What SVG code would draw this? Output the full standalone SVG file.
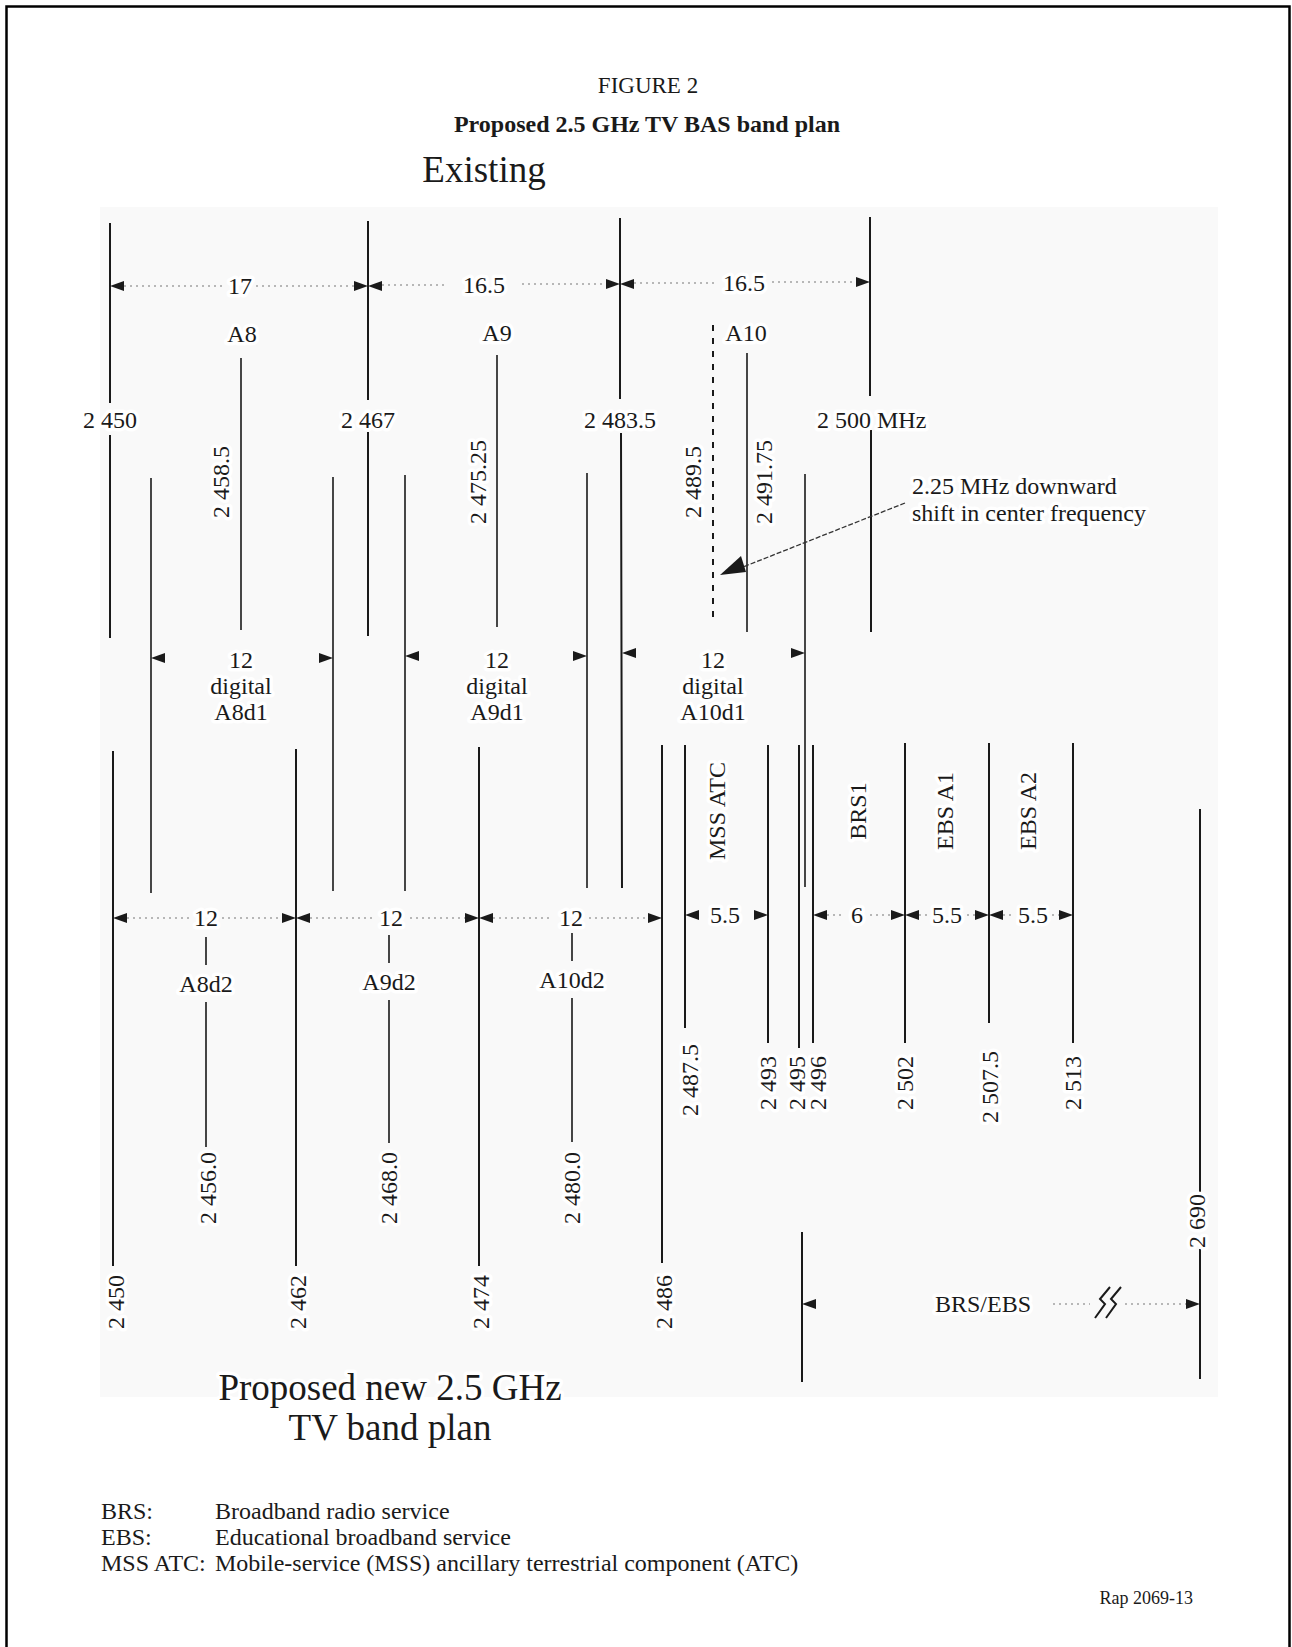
<svg xmlns="http://www.w3.org/2000/svg" xmlns:xlink="http://www.w3.org/1999/xlink" width="1292" height="1647" viewBox="0 0 1292 1647">
<style>
text{font-family:"Liberation Serif","Times New Roman",serif;fill:#1a1a1a;font-size:24px}
.c{text-anchor:middle}
.h{stroke:#fff;stroke-width:7;stroke-linejoin:round;paint-order:stroke}
.ln{fill:none;stroke:#1a1a1a;stroke-width:2}
.tn{fill:none;stroke:#1a1a1a;stroke-width:1.6}
.ds{fill:none;stroke:#1a1a1a;stroke-width:2;stroke-dasharray:6 7}
.dt{fill:none;stroke:#777;stroke-width:1.2;stroke-dasharray:2 4}
.ah{fill:#1a1a1a}
</style>
<defs>
<path id="ar" class="ah" d="M0,0 L-14,-5 L-14,5 Z"/>
<path id="al" class="ah" d="M0,0 L14,-5 L14,5 Z"/>
</defs>
<rect x="0" y="0" width="1292" height="1647" fill="#fff"/>
<path d="M6.5,1660 V6.5 H1289.5 V1660" fill="none" stroke="#000" stroke-width="2.5"/>
<rect x="100" y="207" width="1118" height="1190" fill="#f9f9f9"/>

<g id="title">
<text class="c" x="648" y="93" style="font-size:23px">FIGURE 2</text>
<text class="c" x="647" y="132" style="font-size:24px;font-weight:bold">Proposed 2.5 GHz TV BAS band plan</text>
<text class="c" x="484" y="182" style="font-size:37px">Existing</text>
</g>

<g id="connectors">
<!-- existing plan frequency lines -->
<path class="ln" d="M110,223 V403 M110,435 V638"/>
<path class="ln" d="M368,221 V400 M368,432 V636"/>
<path class="ln" d="M620,218 V399 M621,433 L622,888"/>
<path class="ln" d="M870,217 V396 M871,430 V632"/>
<path class="tn" d="M241,358 V630"/>
<path class="tn" d="M497,355 V627"/>
<path class="ds" d="M713,325 V620"/>
<path class="tn" d="M747,353 V632"/>
<!-- digital d1 lines -->
<path class="tn" d="M151,478 V893"/>
<path class="tn" d="M333,477 V891"/>
<path class="tn" d="M405,475 V891"/>
<path class="tn" d="M587,473 V888"/>
<path class="tn" d="M805,474 V887"/>
<!-- proposed plan lines -->
<path class="ln" d="M113,751 V1266"/>
<path class="ln" d="M296,749 V1266"/>
<path class="ln" d="M479,747 V1266"/>
<path class="ln" d="M662,745 V1263"/>
<path class="tn" d="M206,937 V965 M206,1002 V1147"/>
<path class="tn" d="M389,935 V963 M389,1000 V1143"/>
<path class="tn" d="M572,933 V961 M572,998 V1142"/>
<path class="ln" d="M685,745 V1028"/>
<path class="ln" d="M768,745 V1043"/>
<path class="ln" d="M799,745 V1048"/>
<path class="ln" d="M813,745 V1043"/>
<path class="ln" d="M905,743 V1043"/>
<path class="ln" d="M989,743 V1023"/>
<path class="ln" d="M1073,743 V1043"/>
<path class="ln" d="M802,1232 V1382"/>
<path class="ln" d="M1200,809 V1193 M1200,1249 V1379"/>

<!-- top dimension row -->
<path class="dt" d="M124,286 H225 M256,286 H354 M382,285 H445 M522,284 H606 M634,283 H718 M772,282 H856"/>
<use xlink:href="#al" x="110" y="286"/>
<use xlink:href="#ar" x="368" y="286"/>
<use xlink:href="#al" x="368" y="286"/>
<use xlink:href="#ar" x="620" y="284"/>
<use xlink:href="#al" x="620" y="284"/>
<use xlink:href="#ar" x="870" y="282"/>

<!-- digital d1 arrows -->
<use xlink:href="#al" x="151" y="658"/>
<use xlink:href="#ar" x="333" y="658"/>
<use xlink:href="#al" x="405" y="656"/>
<use xlink:href="#ar" x="587" y="656"/>
<use xlink:href="#al" x="622" y="653"/>
<use xlink:href="#ar" x="805" y="653"/>

<!-- shift leader -->
<path d="M905,503 L743,567" fill="none" stroke="#333" stroke-width="1.3" stroke-dasharray="5 2"/>
<path class="ah" d="M720,575 L741,556 L746,572 Z"/>

<!-- d2 row -->
<path class="dt" d="M127,918 H190 M222,918 H282 M310,918 H372 M410,918 H465 M493,918 H553 M589,918 H648"/>
<use xlink:href="#al" x="113" y="918"/>
<use xlink:href="#ar" x="296" y="918"/>
<use xlink:href="#al" x="296" y="918"/>
<use xlink:href="#ar" x="479" y="918"/>
<use xlink:href="#al" x="479" y="918"/>
<use xlink:href="#ar" x="662" y="918"/>

<!-- right service row -->
<path class="dt" d="M827,915 H843 M870,915 H891 M919,915 H928 M967,915 H975 M1003,915 H1015 M1052,915 H1059"/>
<use xlink:href="#al" x="685" y="915"/>
<use xlink:href="#ar" x="768" y="915"/>
<use xlink:href="#al" x="813" y="915"/>
<use xlink:href="#ar" x="905" y="915"/>
<use xlink:href="#al" x="905" y="915"/>
<use xlink:href="#ar" x="989" y="915"/>
<use xlink:href="#al" x="989" y="915"/>
<use xlink:href="#ar" x="1073" y="915"/>

<!-- BRS/EBS row -->
<path class="dt" d="M1053,1304 H1090 M1125,1304 H1186"/>
<use xlink:href="#al" x="802" y="1304"/>
<use xlink:href="#ar" x="1200" y="1304"/>
<path d="M1095,1318 L1105,1304 L1100,1299 L1110,1287 M1106,1318 L1116,1304 L1111,1299 L1121,1287" fill="none" stroke="#1a1a1a" stroke-width="2"/>
</g>

<g id="existing-labels">
<text class="c h" x="240" y="294">17</text>
<text class="c h" x="484" y="293">16.5</text>
<text class="c h" x="744" y="291">16.5</text>
<text class="c h" x="242" y="342">A8</text>
<text class="c h" x="497" y="341">A9</text>
<text class="c h" x="746" y="341">A10</text>
<text class="c h" x="110" y="428">2 450</text>
<text class="c h" x="368" y="428">2 467</text>
<text class="c h" x="620" y="428">2 483.5</text>
<text class="h" x="817" y="428">2 500 MHz</text>
<text class="c h" transform="translate(221,482) rotate(-90)" dy="0.35em">2 458.5</text>
<text class="c h" transform="translate(478,482) rotate(-90)" dy="0.35em">2 475.25</text>
<text class="c h" transform="translate(693,482) rotate(-90)" dy="0.35em">2 489.5</text>
<text class="c h" transform="translate(764,482) rotate(-90)" dy="0.35em">2 491.75</text>
<text class="h" x="912" y="494">2.25 MHz downward</text>
<text class="h" x="912" y="521">shift in center frequency</text>
</g>

<g id="digital-d1">
<text class="c h" x="241" y="668">12</text>
<text class="c h" x="241" y="694">digital</text>
<text class="c h" x="241" y="720">A8d1</text>
<text class="c h" x="497" y="668">12</text>
<text class="c h" x="497" y="694">digital</text>
<text class="c h" x="497" y="720">A9d1</text>
<text class="c h" x="713" y="668">12</text>
<text class="c h" x="713" y="694">digital</text>
<text class="c h" x="713" y="720">A10d1</text>
</g>

<g id="proposed-labels">
<text class="c h" x="206" y="926">12</text>
<text class="c h" x="391" y="926">12</text>
<text class="c h" x="571" y="926">12</text>
<text class="c h" x="206" y="992">A8d2</text>
<text class="c h" x="389" y="990">A9d2</text>
<text class="c h" x="572" y="988">A10d2</text>
<text class="c h" x="725" y="923">5.5</text>
<text class="c h" x="857" y="923">6</text>
<text class="c h" x="947" y="923">5.5</text>
<text class="c h" x="1033" y="923">5.5</text>
<text class="c h" transform="translate(717,811) rotate(-90)" dy="0.35em">MSS ATC</text>
<text class="c h" transform="translate(858,811) rotate(-90)" dy="0.35em">BRS1</text>
<text class="c h" transform="translate(945,811) rotate(-90)" dy="0.35em">EBS A1</text>
<text class="c h" transform="translate(1028,811) rotate(-90)" dy="0.35em">EBS A2</text>
<text class="c h" transform="translate(208,1188) rotate(-90)" dy="0.35em">2 456.0</text>
<text class="c h" transform="translate(389,1188) rotate(-90)" dy="0.35em">2 468.0</text>
<text class="c h" transform="translate(572,1188) rotate(-90)" dy="0.35em">2 480.0</text>
<text class="c h" transform="translate(116,1302) rotate(-90)" dy="0.35em">2 450</text>
<text class="c h" transform="translate(298,1302) rotate(-90)" dy="0.35em">2 462</text>
<text class="c h" transform="translate(481,1302) rotate(-90)" dy="0.35em">2 474</text>
<text class="c h" transform="translate(664,1302) rotate(-90)" dy="0.35em">2 486</text>
<text class="c h" transform="translate(690,1080) rotate(-90)" dy="0.35em">2 487.5</text>
<text class="c h" transform="translate(768,1083) rotate(-90)" dy="0.35em">2 493</text>
<text class="c h" transform="translate(797,1083) rotate(-90)" dy="0.35em">2 495</text>
<text class="c h" transform="translate(818,1083) rotate(-90)" dy="0.35em">2 496</text>
<text class="c h" transform="translate(905,1083) rotate(-90)" dy="0.35em">2 502</text>
<text class="c h" transform="translate(990,1087) rotate(-90)" dy="0.35em">2 507.5</text>
<text class="c h" transform="translate(1073,1083) rotate(-90)" dy="0.35em">2 513</text>
<text class="c h" transform="translate(1197,1221) rotate(-90)" dy="0.35em">2 690</text>
<text class="c h" x="983" y="1312">BRS/EBS</text>
<text class="c h" x="390" y="1400" style="font-size:37px">Proposed new 2.5 GHz</text>
<text class="c h" x="390" y="1440" style="font-size:37px">TV band plan</text>
</g>

<g id="legend">
<text x="101" y="1519">BRS:</text>
<text x="215" y="1519">Broadband radio service</text>
<text x="101" y="1545">EBS:</text>
<text x="215" y="1545">Educational broadband service</text>
<text x="101" y="1571">MSS ATC:</text>
<text x="215" y="1571">Mobile-service (MSS) ancillary terrestrial component (ATC)</text>
<text x="1193" y="1604" style="font-size:18px;text-anchor:end">Rap 2069-13</text>
</g>
</svg>
